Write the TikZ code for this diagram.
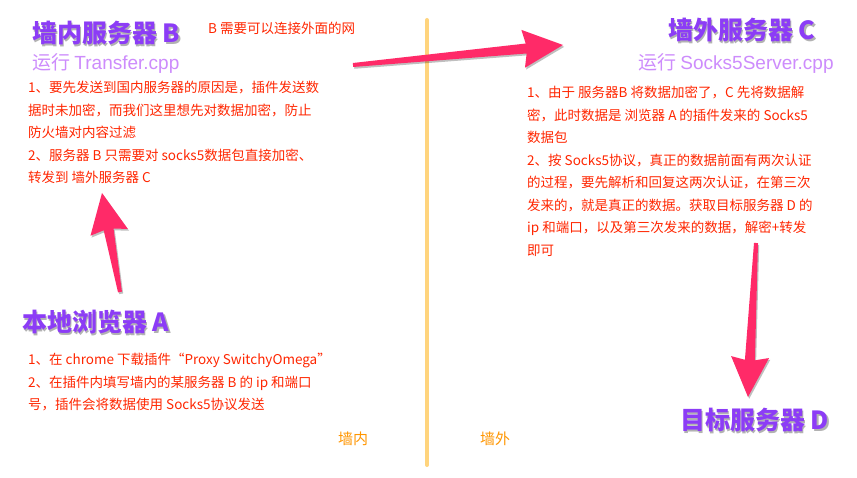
\documentclass[tikz,border=0pt]{standalone}
\usepackage{fontspec}
\setmainfont{Noto Sans CJK SC}
\newfontfamily\latinfont{Liberation Sans}
\usetikzlibrary{calc}
\definecolor{ttl}{RGB}{140,60,246}
\definecolor{subp}{RGB}{205,140,252}
\definecolor{redt}{RGB}{255,38,0}
\definecolor{orng}{RGB}{255,150,0}
\definecolor{wall}{RGB}{255,212,125}
\definecolor{arrowc}{RGB}{255,42,104}
\tikzset{
  title/.style={font=\fontsize{25}{28}\selectfont\bfseries, text=ttl, inner sep=0pt, anchor=west},
  tshadow/.style={font=\fontsize{25}{28}\selectfont\bfseries, text=black!30, inner sep=0pt, anchor=west},
  sub/.style={font=\fontsize{19}{22}\selectfont, text=subp, inner sep=0pt, anchor=west},
  note/.style={font=\fontsize{13.5}{22.5}\selectfont, text=redt, inner sep=0pt, anchor=north west, align=left},
  small/.style={font=\fontsize{13.5}{16}\selectfont, text=redt, inner sep=0pt, anchor=west},
  side/.style={font=\fontsize{15}{16}\selectfont, text=orng, inner sep=0pt, anchor=west},
  wallline/.style={draw=wall, line width=4pt, line cap=round},
}
\newcommand{\fatarrowshape}[2]{%
  ($(#1)!2pt!90:(#2)$) -- ($(#2)!37pt!(#1)!5pt!-90:(#1)$) -- ($(#2)!40pt!(#1)!19pt!-90:(#1)$) -- (#2) --
  ($(#2)!40pt!(#1)!19pt!90:(#1)$) -- ($(#2)!37pt!(#1)!5pt!90:(#1)$) -- ($(#1)!2pt!-90:(#2)$) -- cycle}
\newcommand{\fatarrow}[2]{%
  \fill[black, opacity=0.25, transform canvas={xshift=1.2pt, yshift=-1.8pt}] \fatarrowshape{#1}{#2};
  \fill[arrowc] \fatarrowshape{#1}{#2};}
\begin{document}
\begin{tikzpicture}[x=1pt, y=-1pt]
\useasboundingbox[fill=white] (0,0) rectangle (857,478);

% wall
\coordinate (wtop) at (427,20);
\coordinate (wbot) at (427,465);
\draw[wallline] (wtop) -- (wbot);

% titles with shadow
\node[tshadow] (Bs) at (33.2,34.6) {墙内服务器 B};
\node[title] (B) at (32,33) {墙内服务器 B};
\node[tshadow] (As) at (23.2,323.6) {本地浏览器 A};
\node[title] (A) at (22,322) {本地浏览器 A};
\node[tshadow] (Cs) at (669.2,31.6) {墙外服务器 C};
\node[title] (C) at (668,30) {墙外服务器 C};
\node[tshadow] (Ds) at (681.2,421.6) {目标服务器 D};
\node[title] (D) at (680,420) {目标服务器 D};

% subtitles
\node[sub] (Bsub) at (32,63) {运行 {\latinfont Transfer.cpp}};
\node[sub] (Csub) at (638,63) {运行 {\latinfont Socks5Server.cpp}};

\node[small] (Bnet) at (208,28) {B 需要可以连接外面的网};

% notes
\node[note] (Bnote) at (28,81) {1、要先发送到国内服务器的原因是，插件发送数\\
据时未加密，而我们这里想先对数据加密，防止\\
防火墙对内容过滤\\
2、服务器 B 只需要对 socks5数据包直接加密、\\
转发到 墙外服务器 C};

\node[note] (Anote) at (28,353) {1、在 chrome 下载插件“Proxy SwitchyOmega”\\
2、在插件内填写墙内的某服务器 B 的 ip 和端口\\
号，插件会将数据使用 Socks5协议发送};

\node[note] (Cnote) at (527,86) {1、由于 服务器B 将数据加密了，C 先将数据解\\
密，此时数据是 浏览器 A 的插件发来的 Socks5\\
数据包\\
2、按 Socks5协议，真正的数据前面有两次认证\\
的过程，要先解析和回复这两次认证，在第三次\\
发来的，就是真正的数据。获取目标服务器 D 的\\
ip 和端口，以及第三次发来的数据，解密+转发\\
即可};

\node[side] (inside) at (338,439) {墙内};
\node[side] (outside) at (480,439) {墙外};

% arrows
\coordinate (a1) at (120,292);
\coordinate (a2) at (102,193);
\coordinate (b1) at (353,65);
\coordinate (b2) at (563,45);
\coordinate (c1) at (756,243);
\coordinate (c2) at (748,397);
\fatarrow{a1}{a2}
\fatarrow{b1}{b2}
\fatarrow{c1}{c2}
\end{tikzpicture}
\end{document}
